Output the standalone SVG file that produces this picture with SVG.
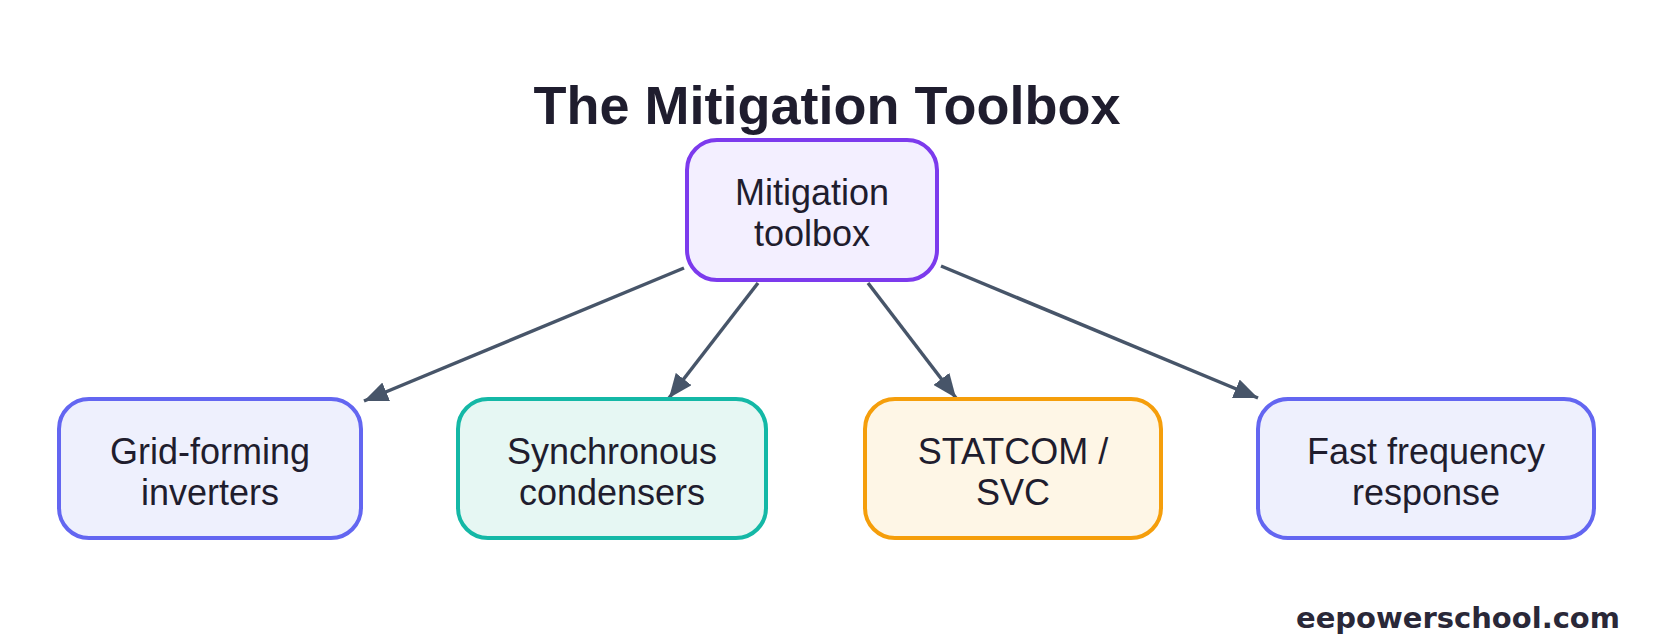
<svg xmlns="http://www.w3.org/2000/svg" width="1655" height="643" viewBox="0 0 1655 643">
<style>
.n rect{stroke-width:4}
.n text{font-family:"Liberation Sans",Arial,sans-serif;font-size:36px;fill:#1f1d2e;text-anchor:middle}
.e line{stroke:#475569;stroke-width:3.5;marker-end:url(#ah)}
</style>
<defs><marker id="ah" viewBox="0 0 24 20" refX="24" refY="10" markerWidth="24" markerHeight="20" markerUnits="userSpaceOnUse" orient="auto"><path d="M0,0 L24,10 L0,20 z" fill="#475569"/></marker></defs>
<rect width="1655" height="643" fill="#fff"/>
<text x="827" y="124" font-family="'Liberation Sans',Arial,sans-serif" font-weight="bold" font-size="54" fill="#1f1d2e" text-anchor="middle">The Mitigation Toolbox</text>
<g class="e">
<line x1="684" y1="268" x2="364" y2="401"/>
<line x1="758" y1="283" x2="669" y2="398"/>
<line x1="868" y1="283" x2="956" y2="398"/>
<line x1="941" y1="266" x2="1258" y2="398"/>
</g>
<g id="top" class="n"><rect x="687" y="140" width="250" height="140" rx="30" fill="#f3efff" stroke="#7c3aed"/><text x="812" y="205">Mitigation</text><text x="812" y="246">toolbox</text></g>
<g id="gfi" class="n"><rect x="59" y="399" width="302" height="139" rx="30" fill="#eef0fd" stroke="#6366f1"/><text x="210" y="464">Grid-forming</text><text x="210" y="505">inverters</text></g>
<g id="sc" class="n"><rect x="458" y="399" width="308" height="139" rx="30" fill="#e6f7f3" stroke="#14b8a6"/><text x="612" y="464">Synchronous</text><text x="612" y="505">condensers</text></g>
<g id="st" class="n"><rect x="865" y="399" width="296" height="139" rx="30" fill="#fef6e6" stroke="#f59e0b"/><text x="1013" y="464">STATCOM /</text><text x="1013" y="505">SVC</text></g>
<g id="ffr" class="n"><rect x="1258" y="399" width="336" height="139" rx="30" fill="#eef0fd" stroke="#6366f1"/><text x="1426" y="464">Fast frequency</text><text x="1426" y="505">response</text></g>
<text x="1620" y="628" font-family="'DejaVu Sans',sans-serif" font-weight="bold" font-size="29" fill="#2a2838" text-anchor="end">eepowerschool.com</text>
</svg>
